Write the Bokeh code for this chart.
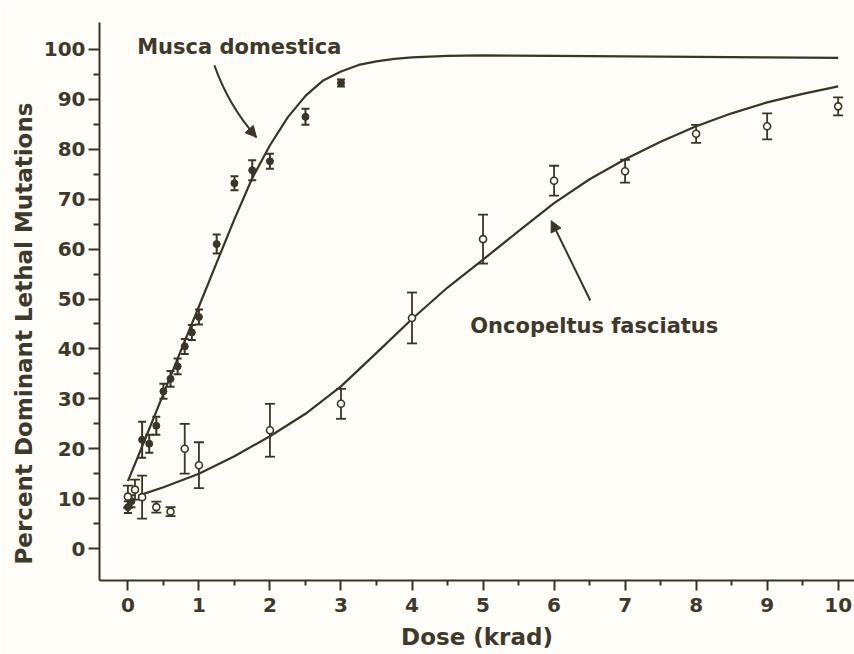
from bokeh.plotting import figure
from bokeh.models import (Range1d, FixedTicker, ColumnDataSource, Whisker, TeeHead,
                          Label, Arrow, NormalHead, Title)
from bokeh.embed import file_html
from bokeh.resources import INLINE

# ---- data ----
musca_dose = [0, 0.05, 0.2, 0.3, 0.4, 0.5, 0.6, 0.7, 0.8, 0.9, 1.0, 1.25, 1.5, 1.75, 2.0, 2.5, 3.0]
musca_pct = [8.3, 9.5, 21.8, 21.0, 24.6, 31.5, 34.0, 36.5, 40.5, 43.3, 46.4, 61.0, 73.2, 75.8, 77.6, 86.5, 93.3]
musca_err = [1.2, 1.2, 3.6, 1.8, 1.8, 1.5, 1.6, 1.6, 1.5, 1.5, 1.5, 1.9, 1.4, 2.0, 1.5, 1.6, 0.7]

onco_dose = [0, 0.1, 0.2, 0.4, 0.6, 0.8, 1.0, 2, 3, 4, 5, 6, 7, 8, 9, 10]
onco_pct = [10.4, 11.8, 10.3, 8.3, 7.4, 20.0, 16.7, 23.7, 29.0, 46.2, 62.0, 73.7, 75.6, 83.1, 84.6, 88.6]
onco_err = [2.2, 2.0, 4.3, 1.1, 0.9, 5.0, 4.6, 5.3, 3.0, 5.1, 4.9, 3.0, 2.3, 1.8, 2.6, 1.8]

musca_curve_x = [0, 0.25, 0.5, 0.75, 1.0, 1.25, 1.5, 1.75, 2.0, 2.25, 2.5, 2.75, 3.0, 3.25, 3.5,
                 3.75, 4.0, 4.5, 5, 6, 7, 8, 9, 10]
musca_curve_y = [13.5, 22.2, 31.0, 39.8, 48.5, 57.3, 66.0, 74.2, 80.8, 86.4, 90.7, 93.8, 95.6, 96.9,
                 97.6, 98.1, 98.4, 98.7, 98.8, 98.7, 98.6, 98.5, 98.4, 98.3]

onco_curve_x = [0.15, 0.5, 1.0, 1.5, 2.0, 2.5, 3.0, 3.5, 4.0, 4.5, 5.0, 5.5, 6.0, 6.5, 7.0, 7.5,
                8.0, 8.5, 9.0, 9.5, 10.0]
onco_curve_y = [10.6, 12.3, 15.0, 18.5, 22.5, 27.0, 32.5, 39.2, 46.0, 52.3, 57.9, 63.6, 69.2, 74.0,
                78.0, 81.5, 84.6, 87.2, 89.4, 91.1, 92.6]

x_ticks = [0, 1, 2, 3, 4, 5, 6, 7, 8, 9, 10]
x_minor = [0.5, 1.5, 2.5, 3.5, 4.5, 5.5, 6.5, 7.5, 8.5, 9.5]
y_ticks = [0, 10, 20, 30, 40, 50, 60, 70, 80, 90, 100]
y_minor = [5, 15, 25, 35, 45, 55, 65, 75, 85, 95]

x_title = "Dose (krad)"
y_title = "Percent Dominant Lethal Mutations"

# ---- styles ----
INK = "#3a3527"
TXT = "#3f392b"
BG = "#fefdf7"
FONT = "DejaVu Sans"

p = figure(width=854, height=654, output_backend="svg", toolbar_location=None,
           x_range=Range1d(-0.40, 10.23), y_range=Range1d(-6.4, 105.4),
           min_border_left=99, min_border_right=0, min_border_top=22, min_border_bottom=74,
           background_fill_color=BG, border_fill_color=BG)
p.outline_line_color = None
p.grid.visible = False

for ax in (p.xaxis[0], p.yaxis[0]):
    ax.axis_line_color = INK
    ax.axis_line_width = 2
    ax.major_tick_line_color = INK
    ax.minor_tick_line_color = INK
    ax.major_tick_line_width = 2
    ax.minor_tick_line_width = 2
    ax.major_tick_in = 0
    ax.minor_tick_in = 0
    ax.major_label_text_font = FONT
    ax.major_label_text_font_style = "bold"
    ax.major_label_text_font_size = "20px"
    ax.major_label_text_color = TXT
    ax.axis_label_text_font = FONT
    ax.axis_label_text_font_style = "bold"
    ax.axis_label_text_font_size = "23px"
    ax.axis_label_text_color = TXT

p.xaxis.ticker = FixedTicker(ticks=x_ticks, minor_ticks=x_minor)
p.yaxis.ticker = FixedTicker(ticks=y_ticks, minor_ticks=y_minor)
p.xaxis.major_tick_out = 10
p.xaxis.minor_tick_out = 5
p.yaxis.major_tick_out = 11
p.yaxis.minor_tick_out = 6
p.xaxis.major_label_standoff = 7
p.yaxis.major_label_standoff = 3
p.xaxis.axis_label_standoff = 9
p.xaxis.axis_label = x_title

# y title as a side title, aligned from the bottom (sits lower than frame centre in the reference)
p.add_layout(Title(text=y_title, align="left", offset=16, text_font=FONT,
                   text_font_style="bold", text_font_size="23px", text_color=TXT,
                   standoff=8), "left")

# ---- fitted curves ----
p.line(musca_curve_x, musca_curve_y, line_color=INK, line_width=2.2)
p.line(onco_curve_x, onco_curve_y, line_color=INK, line_width=2.2)

# ---- error bars ----
msrc = ColumnDataSource(dict(x=musca_dose, y=musca_pct,
                             lo=[v - e for v, e in zip(musca_pct, musca_err)],
                             hi=[v + e for v, e in zip(musca_pct, musca_err)]))
osrc = ColumnDataSource(dict(x=onco_dose, y=onco_pct,
                             lo=[v - e for v, e in zip(onco_pct, onco_err)],
                             hi=[v + e for v, e in zip(onco_pct, onco_err)]))

p.add_layout(Whisker(source=msrc, base="x", lower="lo", upper="hi", line_color=INK, line_width=2,
                     lower_head=TeeHead(size=8, line_color=INK, line_width=2),
                     upper_head=TeeHead(size=8, line_color=INK, line_width=2)))
p.add_layout(Whisker(source=osrc, base="x", lower="lo", upper="hi", line_color=INK, line_width=1.8,
                     lower_head=TeeHead(size=10, line_color=INK, line_width=1.8),
                     upper_head=TeeHead(size=10, line_color=INK, line_width=1.8)))

# ---- markers ----
p.scatter("x", "y", source=msrc, marker="circle", size=7, fill_color=INK, line_color=INK)
p.scatter("x", "y", source=osrc, marker="circle", size=7, fill_color=BG, line_color=INK,
          line_width=1.6)

# ---- annotations ----
p.add_layout(Label(x=0.13, y=100.4, text="Musca domestica", text_font=FONT,
                   text_font_style="bold", text_font_size="21px", text_color=TXT,
                   text_baseline="middle"))
p.add_layout(Label(x=4.82, y=44.5, text="Oncopeltus fasciatus", text_font=FONT,
                   text_font_style="bold", text_font_size="21px", text_color=TXT,
                   text_baseline="middle"))

# curved arrow for Musca
p.quadratic(x0=[1.218], y0=[96.8], x1=[1.81], y1=[82.4], cx=[1.415], cy=[88.8],
            line_color=INK, line_width=2)
p.add_layout(Arrow(x_start=1.71, y_start=84.0, x_end=1.81, y_end=82.4, line_color=INK,
                   line_width=2, end=NormalHead(size=11, fill_color=INK, line_color=INK)))
# straight arrow for Oncopeltus
p.add_layout(Arrow(x_start=6.51, y_start=49.7, x_end=5.96, y_end=65.7, line_color=INK,
                   line_width=2, end=NormalHead(size=11, fill_color=INK, line_color=INK)))

open("out.html", "w").write(file_html(p, INLINE))
